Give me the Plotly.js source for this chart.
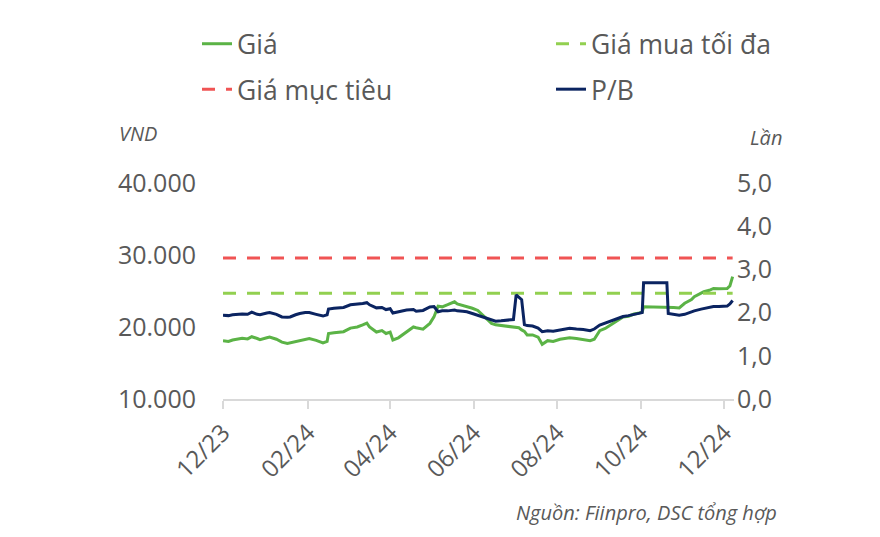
<!DOCTYPE html>
<html>
<head>
<meta charset="utf-8">
<script src="https://cdn.plot.ly/plotly-3.0.1.min.js"></script>
<style>html,body{margin:0;padding:0;background:#fff;}#chart{width:880px;height:537px;}</style>
</head>
<body>
<div id="chart"></div>
<script>
const dates = ["2023-12-01","2023-12-05","2023-12-08","2023-12-12","2023-12-15","2023-12-19","2023-12-22","2023-12-26","2023-12-28","2024-01-02","2024-01-04","2024-01-09","2024-01-13","2024-01-17","2024-01-19","2024-01-23","2024-01-26","2024-01-30","2024-02-02","2024-02-07","2024-02-12","2024-02-15","2024-02-16","2024-02-20","2024-02-27","2024-03-03","2024-03-08","2024-03-12","2024-03-15","2024-03-17","2024-03-22","2024-03-26","2024-03-29","2024-04-01","2024-04-03","2024-04-07","2024-04-10","2024-04-13","2024-04-18","2024-04-20","2024-04-25","2024-04-30","2024-05-03","2024-05-06","2024-05-09","2024-05-13","2024-05-18","2024-05-20","2024-05-24","2024-05-27","2024-05-31","2024-06-04","2024-06-07","2024-06-11","2024-06-14","2024-06-17","2024-06-21","2024-06-26","2024-06-30","2024-07-02","2024-07-04","2024-07-06","2024-07-08","2024-07-10","2024-07-14","2024-07-18","2024-07-21","2024-07-25","2024-07-29","2024-08-03","2024-08-07","2024-08-10","2024-08-15","2024-08-20","2024-08-25","2024-08-28","2024-09-01","2024-09-05","2024-09-09","2024-09-13","2024-09-18","2024-09-22","2024-09-26","2024-09-29","2024-10-02","2024-10-03","2024-10-08","2024-10-13","2024-10-18","2024-10-20","2024-10-21","2024-10-25","2024-10-29","2024-11-02","2024-11-07","2024-11-09","2024-11-14","2024-11-16","2024-11-20","2024-11-23","2024-11-27","2024-12-03","2024-12-05","2024-12-07"];

const price = [18100,18000,18200,18300,18450,18350,18650,18400,18250,18500,18600,18300,17900,17700,17800,18000,18150,18300,18400,18150,17800,18000,19100,19200,19350,19850,20000,20300,20550,20000,19300,19500,19100,19300,18200,18500,18900,19400,20000,19900,19700,20500,21400,22900,22800,23100,23500,23200,23000,22800,22600,22300,21800,21000,20500,20300,20200,20050,20000,20000,19900,19600,19400,18900,18900,18600,17600,18100,18000,18300,18400,18500,18400,18300,18100,18300,19500,19800,20300,20700,21400,21500,21800,21900,22100,22800,22800,22750,22800,22750,22700,22700,22650,23300,23800,24200,24700,24900,25100,25350,25300,25350,25700,27000];

const pb = [1.94,1.93,1.95,1.96,1.97,1.96,2.01,1.96,1.95,1.99,2.00,1.96,1.90,1.89,1.90,1.95,1.98,2.00,2.00,1.96,1.92,1.95,2.08,2.10,2.12,2.18,2.19,2.21,2.23,2.18,2.11,2.12,2.07,2.09,1.99,2.02,2.05,2.06,2.07,2.03,2.05,2.13,2.14,2.02,2.04,2.04,2.06,2.04,2.03,2.02,1.98,1.94,1.91,1.87,1.83,1.80,1.81,1.83,1.84,2.41,2.36,2.30,1.72,1.70,1.69,1.64,1.56,1.58,1.57,1.60,1.62,1.64,1.62,1.61,1.58,1.62,1.71,1.76,1.81,1.85,1.91,1.93,1.96,1.98,2.00,2.69,2.69,2.69,2.69,2.69,1.98,1.96,1.94,1.96,2.02,2.04,2.08,2.09,2.11,2.14,2.14,2.15,2.20,2.28];

const refDates = ["2023-12-01","2024-12-07"];
const maxBuyPrice = [24700,24700];
const targetPrice = [29600,29600];

const seriesNames = ["Giá","Giá mua tối đa","Giá mục tiêu","P/B"];

const font = "Open Sans, Noto Sans, sans-serif";
const gray = "#595959";

const traces = [
  {x: dates, y: price, name: seriesNames[0], type: "scatter", mode: "lines",
   line: {color: "#5bb346", width: 3}, legend: "legend", legendgroup: "a", legendrank: 1},
  {x: refDates, y: maxBuyPrice, name: seriesNames[1], type: "scatter", mode: "lines",
   line: {color: "#92d050", width: 3, dash: "13px,11px"}, legend: "legend2", legendgroup: "b", legendrank: 1},
  {x: refDates, y: targetPrice, name: seriesNames[2], type: "scatter", mode: "lines",
   line: {color: "#f05454", width: 3, dash: "13px,11px"}, legend: "legend", legendgroup: "c", legendrank: 2},
  {x: dates, y: pb, name: seriesNames[3], type: "scatter", mode: "lines", yaxis: "y2",
   line: {color: "#0b2461", width: 3}, legend: "legend2", legendgroup: "d", legendrank: 2}
];

const legendCommon = {
  orientation: "v", xref: "container", yref: "container", xanchor: "left", yanchor: "top",
  font: {family: font, size: 26.5, color: gray}, bgcolor: "rgba(0,0,0,0)", tracegroupgap: 8,
  traceorder: "grouped"
};

const layout = {
  width: 880, height: 537,
  margin: {l: 223, r: 146, t: 183, b: 138, autoexpand: false},
  paper_bgcolor: "#ffffff", plot_bgcolor: "#ffffff",
  separators: ",.",
  font: {family: font, color: gray},
  showlegend: true,
  legend: Object.assign({}, legendCommon, {x: 197/880, y: 1 - 20/537}),
  legend2: Object.assign({}, legendCommon, {x: 551/880, y: 1 - 20/537}),
  xaxis: {
    type: "date", range: ["2023-12-01", "2024-12-08"],
    tick0: "2023-12-01", dtick: "M2", tickformat: "%m/%y",
    tickangle: -45, tickfont: {family: font, size: 24, color: gray},
    showgrid: false, zeroline: false,
    showline: true, linecolor: "#d9d9d9", linewidth: 2,
    ticks: "outside", ticklen: 8, tickwidth: 2, tickcolor: "#d9d9d9"
  },
  yaxis: {
    range: [10000, 40000], dtick: 10000, tickformat: ",.0f",
    tickfont: {family: font, size: 25, color: gray},
    showgrid: false, zeroline: false, showline: false, ticks: "",
    ticklabelstandoff: 26
  },
  yaxis2: {
    overlaying: "y", side: "right",
    range: [0, 5], dtick: 1, tickformat: ".1f",
    tickfont: {family: font, size: 25, color: gray},
    showgrid: false, zeroline: false, showline: false, ticks: "",
    ticklabelstandoff: 2
  },
  annotations: [
    {text: "<i>VND</i>", xref: "paper", yref: "paper", x: (117-223)/511, y: (399-133)/216,
     xanchor: "left", yanchor: "middle", showarrow: false, font: {family: font, size: 20, color: gray}},
    {text: "<i>Lần</i>", xref: "paper", yref: "paper", x: (748-223)/511, y: (399-137)/216,
     xanchor: "left", yanchor: "middle", showarrow: false, font: {family: font, size: 20, color: gray}},
    {text: "<i>Nguồn: Fiinpro, DSC tổng hợp</i>", xref: "paper", yref: "paper", x: (779-223)/511, y: (399-512)/216,
     xanchor: "right", yanchor: "middle", showarrow: false, font: {family: font, size: 20, color: gray}}
  ]
};

Plotly.newPlot("chart", traces, layout, {displayModeBar: false, staticPlot: true});
</script>
</body>
</html>
